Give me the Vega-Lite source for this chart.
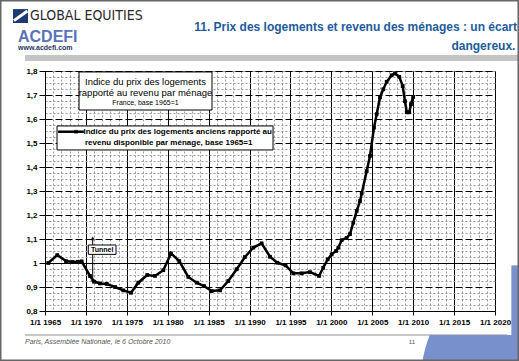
{
  "$schema": "https://vega.github.io/schema/vega-lite/v6.json",
  "width": 450,
  "height": 240,
  "autosize": "none",
  "padding": {"left": 45, "top": 71, "right": 24, "bottom": 50},
  "background": "white",
  "view": {"stroke": "#999999", "strokeWidth": 1},
  "config": {"font": "Liberation Sans"},
  "datasets": {
    "serie": [
      {"year": 1965.40, "index": 1.000}, {"year": 1966.50, "index": 1.033}, {"year": 1967.57, "index": 1.008},
      {"year": 1968.38, "index": 1.004}, {"year": 1969.00, "index": 1.005}, {"year": 1969.48, "index": 1.007},
      {"year": 1970.50, "index": 0.946}, {"year": 1971.03, "index": 0.922}, {"year": 1971.72, "index": 0.915},
      {"year": 1972.54, "index": 0.913}, {"year": 1973.56, "index": 0.900}, {"year": 1974.57, "index": 0.886},
      {"year": 1975.51, "index": 0.876}, {"year": 1976.40, "index": 0.918}, {"year": 1977.50, "index": 0.950},
      {"year": 1978.44, "index": 0.946}, {"year": 1979.46, "index": 0.970}, {"year": 1980.40, "index": 1.040},
      {"year": 1981.41, "index": 1.008}, {"year": 1982.51, "index": 0.942}, {"year": 1983.54, "index": 0.918},
      {"year": 1984.43, "index": 0.904}, {"year": 1985.37, "index": 0.883}, {"year": 1986.39, "index": 0.886},
      {"year": 1987.40, "index": 0.925}, {"year": 1988.43, "index": 0.974}, {"year": 1989.44, "index": 1.025},
      {"year": 1990.46, "index": 1.064}, {"year": 1991.48, "index": 1.082}, {"year": 1992.50, "index": 1.026},
      {"year": 1993.40, "index": 1.001}, {"year": 1994.40, "index": 0.990}, {"year": 1995.35, "index": 0.957},
      {"year": 1996.37, "index": 0.957}, {"year": 1997.39, "index": 0.962}, {"year": 1998.49, "index": 0.946},
      {"year": 1999.00, "index": 0.980}, {"year": 1999.55, "index": 1.015}, {"year": 2000.04, "index": 1.036},
      {"year": 2000.57, "index": 1.050}, {"year": 2000.85, "index": 1.064}, {"year": 2001.26, "index": 1.095},
      {"year": 2001.87, "index": 1.105}, {"year": 2002.28, "index": 1.120}, {"year": 2002.68, "index": 1.168},
      {"year": 2003.10, "index": 1.217}, {"year": 2003.50, "index": 1.258}, {"year": 2003.71, "index": 1.290},
      {"year": 2004.32, "index": 1.383}, {"year": 2004.72, "index": 1.446}, {"year": 2005.21, "index": 1.564},
      {"year": 2005.54, "index": 1.620}, {"year": 2005.94, "index": 1.690}, {"year": 2006.35, "index": 1.724},
      {"year": 2006.76, "index": 1.755}, {"year": 2007.37, "index": 1.782}, {"year": 2007.78, "index": 1.790},
      {"year": 2008.30, "index": 1.776}, {"year": 2008.72, "index": 1.737}, {"year": 2009.00, "index": 1.674},
      {"year": 2009.21, "index": 1.628}, {"year": 2009.52, "index": 1.628}, {"year": 2009.73, "index": 1.662},
      {"year": 2010.00, "index": 1.692}
    ],
    "one": [{}]
  },
  "resolve": {"axis": {"x": "independent", "y": "independent"}},
  "layer": [
    {
      "data": {"name": "serie"},
      "mark": {"type": "point", "opacity": 0},
      "encoding": {
        "x": {"field": "year", "type": "quantitative", "scale": {"domain": [1965, 2020], "nice": false, "zero": false},
          "axis": {"orient": "bottom", "values": [1966,1967,1968,1969,1971,1972,1973,1974,1976,1977,1978,1979,1981,1982,1983,1984,1986,1987,1988,1989,1991,1992,1993,1994,1996,1997,1998,1999,2001,2002,2003,2004,2006,2007,2008,2009,2011,2012,2013,2014,2016,2017,2018,2019],
            "labels": false, "ticks": false, "domain": false, "title": null, "grid": true, "gridColor": "#9a9a9a", "gridDash": [2, 2], "gridWidth": 1}},
        "y": {"field": "index", "type": "quantitative", "scale": {"domain": [0.8, 1.8], "nice": false, "zero": false},
          "axis": {"orient": "left", "values": [0.825,0.85,0.875,0.925,0.95,0.975,1.025,1.05,1.075,1.125,1.15,1.175,1.225,1.25,1.275,1.325,1.35,1.375,1.425,1.45,1.475,1.525,1.55,1.575,1.625,1.65,1.675,1.725,1.75,1.775],
            "labels": false, "ticks": false, "domain": false, "title": null, "grid": true, "gridColor": "#9a9a9a", "gridDash": [2, 2], "gridWidth": 1}}
      }
    },
    {
      "data": {"name": "serie"},
      "mark": {"type": "line", "color": "black", "strokeWidth": 2.5,
        "point": {"shape": "square", "size": 14, "filled": true, "color": "black"}},
      "encoding": {
        "x": {"field": "year", "type": "quantitative",
          "axis": {"orient": "bottom", "values": [1965,1970,1975,1980,1985,1990,1995,2000,2005,2010,2015,2020],
            "labelExpr": "'1/1 ' + datum.value", "labelFont": "Liberation Sans", "labelFontSize": 8, "labelFontWeight": "bold",
            "labelColor": "black", "labelPadding": 3, "labelOverlap": false, "labelFlush": false,
            "tickSize": 4, "tickColor": "black", "domainColor": "black", "domainWidth": 1,
            "title": null, "grid": true, "gridColor": "black", "gridWidth": 1}},
        "y": {"field": "index", "type": "quantitative",
          "axis": {"orient": "left", "values": [0.8,0.9,1,1.1,1.2,1.3,1.4,1.5,1.6,1.7,1.8],
            "labelExpr": "replace(format(datum.value, '.1~f'), '.', ',')",
            "labelFont": "Liberation Sans", "labelFontSize": 8, "labelFontWeight": "bold", "labelColor": "black",
            "labelOverlap": false, "labelFlush": false,
            "labelPadding": 2, "tickSize": 6, "tickColor": "black", "domainColor": "black", "title": null,
            "grid": true, "gridColor": "black", "gridWidth": 1,
            "gridDash": {"condition": {"test": "datum.value == 1", "value": []}, "value": [7, 3]}}}
      }
    },
    {
      "data": {"name": "one"},
      "mark": {"type": "rule", "color": "black", "strokeWidth": 1},
      "encoding": {
        "x": {"datum": 1970.83, "type": "quantitative", "axis": null},
        "y": {"datum": 1.105, "type": "quantitative", "axis": null},
        "y2": {"datum": 0.92}
      }
    },
    {
      "data": {"name": "one"},
      "mark": {"type": "point", "shape": "triangle-up", "size": 22, "filled": true, "color": "black"},
      "encoding": {"x": {"datum": 1970.83, "type": "quantitative", "axis": null}, "y": {"datum": 1.103, "type": "quantitative", "axis": null}}
    },
    {
      "data": {"name": "one"},
      "mark": {"type": "point", "shape": "triangle-down", "size": 22, "filled": true, "color": "black"},
      "encoding": {"x": {"datum": 1970.83, "type": "quantitative", "axis": null}, "y": {"datum": 0.922, "type": "quantitative", "axis": null}}
    },
    {
      "data": {"name": "one"},
      "mark": {"type": "rect", "fill": "white", "stroke": "black", "strokeWidth": 1},
      "encoding": {
        "x": {"datum": 1970.29, "type": "quantitative", "axis": null}, "x2": {"datum": 1973.68},
        "y": {"datum": 1.075, "type": "quantitative", "axis": null}, "y2": {"datum": 1.036}
      }
    },
    {
      "data": {"name": "one"},
      "mark": {"type": "text", "fontSize": 7, "fontWeight": "bold", "color": "black", "align": "center", "baseline": "middle"},
      "encoding": {"x": {"datum": 1971.98, "type": "quantitative", "axis": null}, "y": {"datum": 1.056, "type": "quantitative", "axis": null}, "text": {"value": "Tunnel"}}
    },
    {
      "data": {"name": "one"},
      "mark": {"type": "rect", "fill": "white", "stroke": "black", "strokeWidth": 1},
      "encoding": {
        "x": {"datum": 1969.16, "type": "quantitative", "axis": null}, "x2": {"datum": 1985.41},
        "y": {"datum": 1.796, "type": "quantitative", "axis": null}, "y2": {"datum": 1.6375}
      }
    },
    {
      "data": {"name": "one"},
      "mark": {"type": "text", "fontSize": 9.5, "color": "black", "align": "center", "baseline": "middle"},
      "encoding": {"x": {"datum": 1977.28, "type": "quantitative", "axis": null}, "y": {"datum": 1.756, "type": "quantitative", "axis": null}, "text": {"value": "Indice du prix des logements"}}
    },
    {
      "data": {"name": "one"},
      "mark": {"type": "text", "fontSize": 9.5, "color": "black", "align": "center", "baseline": "middle"},
      "encoding": {"x": {"datum": 1977.28, "type": "quantitative", "axis": null}, "y": {"datum": 1.708, "type": "quantitative", "axis": null}, "text": {"value": "rapporté au revenu par ménage"}}
    },
    {
      "data": {"name": "one"},
      "mark": {"type": "text", "fontSize": 7, "color": "black", "align": "center", "baseline": "middle"},
      "encoding": {"x": {"datum": 1977.28, "type": "quantitative", "axis": null}, "y": {"datum": 1.665, "type": "quantitative", "axis": null}, "text": {"value": "France, base 1965=1"}}
    },
    {
      "data": {"name": "one"},
      "mark": {"type": "rect", "fill": "white", "stroke": "black", "strokeWidth": 1},
      "encoding": {
        "x": {"datum": 1966.47, "type": "quantitative", "axis": null}, "x2": {"datum": 1992.87},
        "y": {"datum": 1.571, "type": "quantitative", "axis": null}, "y2": {"datum": 1.471}
      }
    },
    {
      "data": {"name": "one"},
      "mark": {"type": "rule", "color": "black", "strokeWidth": 2.5},
      "encoding": {
        "x": {"datum": 1966.6, "type": "quantitative", "axis": null}, "x2": {"datum": 1969.75},
        "y": {"datum": 1.547, "type": "quantitative", "axis": null}
      }
    },
    {
      "data": {"name": "one"},
      "mark": {"type": "point", "shape": "square", "size": 14, "filled": true, "color": "black"},
      "encoding": {"x": {"datum": 1968.8, "type": "quantitative", "axis": null}, "y": {"datum": 1.547, "type": "quantitative", "axis": null}}
    },
    {
      "data": {"name": "one"},
      "mark": {"type": "text", "fontSize": 8, "fontWeight": "bold", "color": "black", "align": "left", "baseline": "middle"},
      "encoding": {"x": {"datum": 1969.7, "type": "quantitative", "axis": null}, "y": {"datum": 1.547, "type": "quantitative", "axis": null}, "text": {"value": "Indice du prix des logements anciens rapporté au"}}
    },
    {
      "data": {"name": "one"},
      "mark": {"type": "text", "fontSize": 8, "fontWeight": "bold", "color": "black", "align": "left", "baseline": "middle"},
      "encoding": {"x": {"datum": 1969.89, "type": "quantitative", "axis": null}, "y": {"datum": 1.501, "type": "quantitative", "axis": null}, "text": {"value": "revenu disponible par ménage, base 1965=1"}}
    },
    {
      "data": {"name": "one"},
      "mark": {"type": "rect", "fill": "#c4c4c4"},
      "encoding": {
        "x": {"datum": 1962.56, "type": "quantitative", "axis": null}, "x2": {"datum": 2022.93},
        "y": {"datum": 1.8667, "type": "quantitative", "axis": null}, "y2": {"datum": 1.8417}
      }
    },
    {
      "data": {"name": "one"},
      "mark": {"type": "rule", "color": "#c8c8c8", "strokeWidth": 2},
      "encoding": {
        "x": {"datum": 1962.56, "type": "quantitative", "axis": null}, "x2": {"datum": 2021.5},
        "y": {"datum": 0.70, "type": "quantitative", "axis": null}
      }
    },
    {
      "data": {"name": "one"},
      "mark": {"type": "arc", "radius": 119, "theta": 3.1416, "theta2": 5.1, "fill": "#7890cc"},
      "encoding": {"x": {"datum": 2025.5, "type": "quantitative", "axis": null}, "y": {"datum": 0.5125, "type": "quantitative", "axis": null}}
    },
    {
      "data": {"name": "one"},
      "mark": {"type": "rect", "fill": "#7890cc"},
      "encoding": {
        "x": {"datum": 2012.05, "type": "quantitative", "axis": null}, "x2": {"datum": 2022.93},
        "y": {"datum": 0.70, "type": "quantitative", "axis": null}, "y2": {"datum": 0.5917}
      }
    },
    {
      "data": {"name": "one"},
      "mark": {"type": "rect", "fill": "#7890cc"},
      "encoding": {
        "x": {"datum": 2022.0, "type": "quantitative", "axis": null}, "x2": {"datum": 2022.93},
        "y": {"datum": 0.99, "type": "quantitative", "axis": null}, "y2": {"datum": 0.70}
      }
    },
    {
      "data": {"name": "one"},
      "mark": {"type": "text", "fontSize": 7, "fontStyle": "italic", "color": "#555555", "align": "left", "baseline": "middle"},
      "encoding": {"x": {"datum": 1962.56, "type": "quantitative", "axis": null}, "y": {"datum": 0.671, "type": "quantitative", "axis": null}, "text": {"value": "Paris, Assemblée Nationale, le 6 Octobre 2010"}}
    },
    {
      "data": {"name": "one"},
      "mark": {"type": "text", "fontSize": 6, "color": "#555555", "align": "center", "baseline": "middle"},
      "encoding": {"x": {"datum": 2009.85, "type": "quantitative", "axis": null}, "y": {"datum": 0.671, "type": "quantitative", "axis": null}, "text": {"value": "11"}}
    },
    {
      "data": {"name": "one"},
      "mark": {"type": "rect", "fill": "#1d3b70"},
      "encoding": {
        "x": {"datum": 1961.09, "type": "quantitative", "axis": null}, "x2": {"datum": 1962.92},
        "y": {"datum": 2.058, "type": "quantitative", "axis": null}, "y2": {"datum": 2.0}
      }
    },
    {
      "data": {"name": "one"},
      "mark": {"type": "rule", "color": "white", "strokeWidth": 3},
      "encoding": {
        "x": {"datum": 1961.2, "type": "quantitative", "axis": null}, "x2": {"datum": 1962.85},
        "y": {"datum": 2.01, "type": "quantitative", "axis": null}, "y2": {"datum": 2.05}
      }
    },
    {
      "data": {"name": "one"},
      "mark": {"type": "text", "fontSize": 14, "font": "DejaVu Sans Condensed, Liberation Sans", "color": "#2a2a2a", "align": "left", "baseline": "middle"},
      "encoding": {"x": {"datum": 1963.17, "type": "quantitative", "axis": null}, "y": {"datum": 2.031, "type": "quantitative", "axis": null}, "text": {"value": "GLOBAL EQUITIES"}}
    },
    {
      "data": {"name": "one"},
      "mark": {"type": "text", "fontSize": 16, "fontWeight": "bold", "color": "#5a72b8", "align": "left", "baseline": "middle"},
      "encoding": {"x": {"datum": 1961.7, "type": "quantitative", "axis": null}, "y": {"datum": 1.942, "type": "quantitative", "axis": null}, "text": {"value": "ACDEFI"}}
    },
    {
      "data": {"name": "one"},
      "mark": {"type": "text", "fontSize": 7, "fontWeight": "bold", "color": "#2a3560", "align": "left", "baseline": "middle"},
      "encoding": {"x": {"datum": 1961.7, "type": "quantitative", "axis": null}, "y": {"datum": 1.894, "type": "quantitative", "axis": null}, "text": {"value": "www.acdefi.com"}}
    },
    {
      "data": {"name": "one"},
      "mark": {"type": "text", "fontSize": 12, "fontWeight": "bold", "color": "#1d5c9c", "align": "right", "baseline": "middle"},
      "encoding": {"x": {"datum": 2022.69, "type": "quantitative", "axis": null}, "y": {"datum": 1.983, "type": "quantitative", "axis": null}, "text": {"value": "11. Prix des logements et revenu des ménages : un écart"}}
    },
    {
      "data": {"name": "one"},
      "mark": {"type": "text", "fontSize": 12, "fontWeight": "bold", "color": "#1d5c9c", "align": "right", "baseline": "middle"},
      "encoding": {"x": {"datum": 2022.5, "type": "quantitative", "axis": null}, "y": {"datum": 1.904, "type": "quantitative", "axis": null}, "text": {"value": "dangereux."}}
    },
    {
      "data": {"name": "one"},
      "mark": {"type": "rect", "fill": null, "fillOpacity": 0, "stroke": "#666666", "strokeWidth": 3},
      "encoding": {
        "x": {"datum": 1959.5, "type": "quantitative", "axis": null}, "x2": {"datum": 2022.93},
        "y": {"datum": 2.0958, "type": "quantitative", "axis": null}, "y2": {"datum": 0.5917}
      }
    }
  ]
}
